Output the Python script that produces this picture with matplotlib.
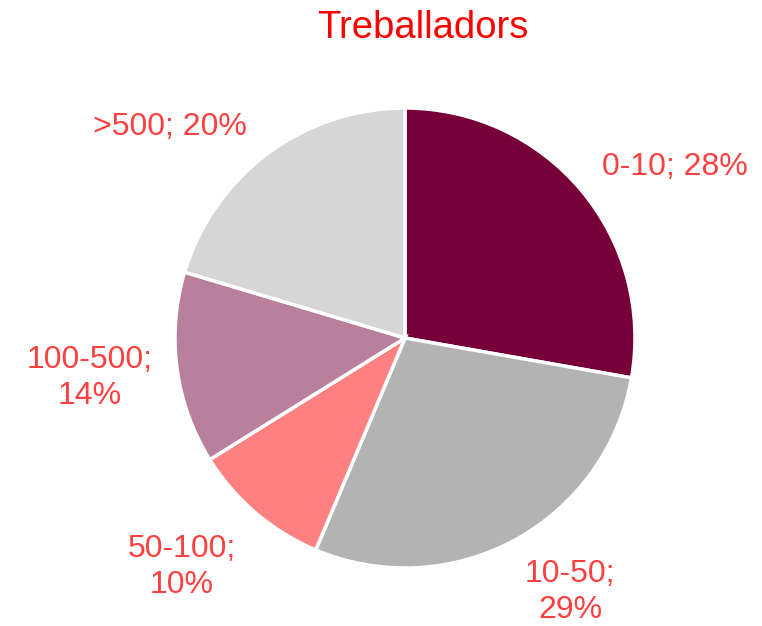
import matplotlib.pyplot as plt

# data
categories = ["0-10", "10-50", "50-100", "100-500", ">500"]
shares = [27.8, 28.6, 9.8, 13.5, 20.4]
pct_labels = ["28%", "29%", "10%", "14%", "20%"]
colors = ["#780038", "#b3b3b3", "#ff8080", "#b8809c", "#d6d6d6"]

# label layout (pixel centres in the 762x626 figure) and line breaks
label_px = [(675, 167), (570, 592), (182, 567), (90, 378), (170, 127)]
label_sep = ["; ", ";\n", ";\n", ";\n", "; "]

plt.rcParams['font.family'] = ['Liberation Sans', 'DejaVu Sans']

W, H = 762, 626
cx, cy, r = 405, 338, 230

fig = plt.figure(figsize=(W / 100, H / 100), dpi=100)
ax = fig.add_axes([(cx - r) / W, (H - cy - r) / H, 2 * r / W, 2 * r / H])

ax.pie(shares, colors=colors, startangle=90, counterclock=False,
       wedgeprops=dict(edgecolor="white", linewidth=2.5))
ax.set_xlim(-1, 1)
ax.set_ylim(-1, 1)
ax.set_aspect("equal")
ax.axis("off")

for cat, pct, sep, (px, py) in zip(categories, pct_labels, label_sep, label_px):
    ax.text((px - cx) / r, (cy - py) / r, cat + sep + pct,
            ha="center", va="center", fontsize=23, color="#ff4040",
            linespacing=1.3, clip_on=False)

fig.text(423 / W, 1 - 28 / H, "Treballadors", ha="center", va="center",
         fontsize=27.5, color="#ff0000")

fig.savefig("out.png", dpi=100)
